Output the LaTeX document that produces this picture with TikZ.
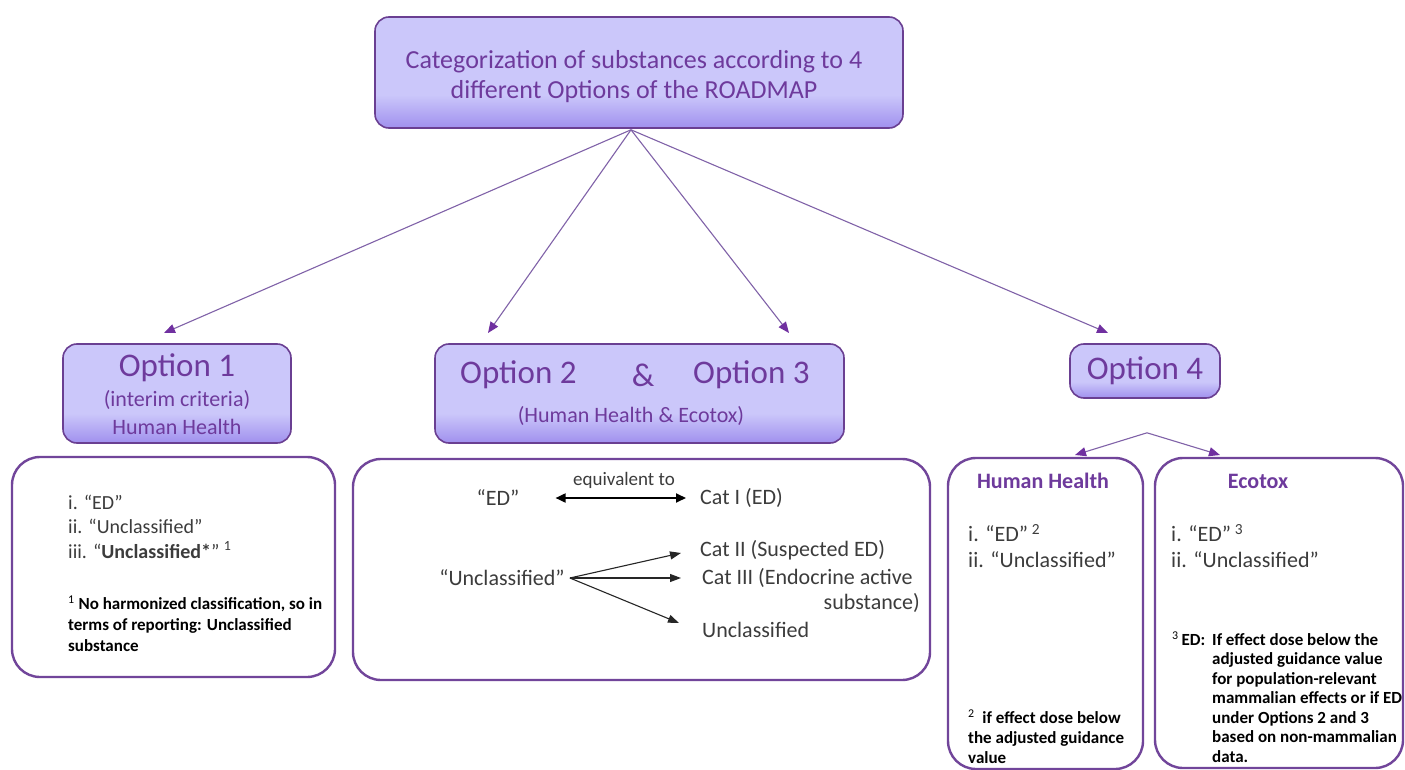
\documentclass[tikz,border=0pt]{standalone}
\usepackage{fontspec}
\setmainfont{Carlito}
\usetikzlibrary{arrows.meta,calc}

\definecolor{boxTop}{HTML}{CBC7FA}
\definecolor{boxBot}{HTML}{A090EE}
\definecolor{boxLine}{HTML}{6A3F92}
\definecolor{listLine}{HTML}{71459A}
\definecolor{purpText}{HTML}{6E3A9C}
\definecolor{linkLine}{HTML}{8062A8}
\definecolor{tipCol}{HTML}{7030A0}
\definecolor{bodyText}{HTML}{3C3C3C}

% lavender fill that darkens only towards the lower edge
\pgfdeclareverticalshading{optshade}{100bp}{color(0bp)=(boxBot); color(25bp)=(boxBot); color(40bp)=(boxTop); color(100bp)=(boxTop)}

\newcommand\setfs[2]{\fontsize{#1}{#2}\selectfont}

\tikzset{
  optbox/.style={draw=boxLine, line width=1.6pt, rounded corners=14pt, shade, shading=optshade, inner sep=0pt},
  listbox/.style={draw=listLine, line width=2.4pt, rounded corners=28pt, fill=white, inner sep=0pt},
  ptxt/.style={text=purpText, inner sep=0pt, align=center},
  btxt/.style={text=bodyText, inner sep=0pt, align=left},
  fn/.style={text=black, inner sep=0pt, align=left},
  link/.style={draw=linkLine, line width=1.1pt, -{Triangle[length=11pt,width=9pt,color=tipCol]}},
  blk/.style={draw=black!85, line width=1.1pt, -{Triangle[length=11pt,width=8pt]}},
  dbl/.style={draw=black, line width=1.8pt, {Triangle[length=10pt,width=9pt]}-{Triangle[length=10pt,width=9pt]}}
}

\begin{document}
\begin{tikzpicture}[x=1pt, y=-1pt]
\fill[white] (0,0) rectangle (1405,770);
\useasboundingbox (0,0) rectangle (1405,770);

% ---------- top box ----------
\node[optbox, minimum width=528pt, minimum height=111pt] (title) at (639,72.5) {};
\node[ptxt, font=\setfs{26}{30}] (titletext) at (634,77) {Categorization of substances according to 4\\different Options of the ROADMAP};

% ---------- option boxes ----------
\node[optbox, minimum width=228pt, minimum height=99pt] (opt1) at (177,393.5) {};
\node[ptxt, font=\setfs{33}{36}] (opt1a) at (177,368) {Option 1};
\node[ptxt, font=\setfs{22}{26}] (opt1b) at (177,400) {(interim criteria)};
\node[ptxt, font=\setfs{22}{26}] (opt1c) at (177,427) {Human Health};

\node[optbox, minimum width=409pt, minimum height=99pt] (opt23) at (639.5,393.5) {};
\node[ptxt, font=\setfs{33}{36}, anchor=west] (opt2a) at (460,375) {Option 2};
\node[ptxt, font=\setfs{33}{36}] (amp) at (643,375) {\&};
\node[ptxt, font=\setfs{33}{36}, anchor=west] (opt3a) at (693,375) {Option 3};
\node[ptxt, font=\setfs{22}{26}] (opt23b) at (631,416) {(Human Health \& Ecotox)};

\node[optbox, minimum width=150pt, minimum height=54pt, text=purpText, font=\setfs{33}{36}] (opt4) at (1145,371) {Option 4};

% ---------- connectors from the top box ----------
\coordinate (src) at ($(title.south)+(-8,1)$);
\coordinate (tip1) at (164,333);
\coordinate (tip2) at (488,333);
\coordinate (tip3) at (789,333);
\coordinate (tip4) at (1108,333);
\draw[link] (src) -- (tip1);
\draw[link] (src) -- (tip2);
\draw[link] (src) -- (tip3);
\draw[link] (src) -- (tip4);

% ---------- Option 4 split ----------
\coordinate (split) at ($(opt4.south)+(2,34)$);
\coordinate (tiphh) at (1075,455);
\coordinate (tipeco) at (1220,455);
\draw[link] (split) -- (tiphh);
\draw[link] (split) -- (tipeco);

% ---------- lower boxes ----------
\node[listbox, minimum width=323pt, minimum height=220pt] (list1) at (173.5,567) {};
\node[listbox, minimum width=577pt, minimum height=221pt] (list23) at (641.5,569.5) {};
\node[listbox, minimum width=195pt, minimum height=311pt] (listhh) at (1045.5,613.5) {};
\node[listbox, minimum width=248pt, minimum height=310pt] (listeco) at (1279,613) {};

% Option 1 contents
\node[btxt, anchor=west, font=\setfs{20}{24.5}] (l1items) at (68,526.5)
  {i. “ED”\\ii. “Unclassified”\\iii. “\textbf{Unclassified*}” \textsuperscript{1}};
\node[fn, anchor=west, font=\bfseries\setfs{17}{21}] (l1note) at (68,624)
  {\textsuperscript{\mdseries 1} No harmonized classification, so in\\terms of reporting: Unclassified\\substance};

% Option 2 & 3 contents
\node[btxt, font=\setfs{22}{26}] (ed) at (498,498) {“ED”};
\node[btxt, font=\setfs{22}{26}, anchor=west] (cat1) at (700,498) {Cat I (ED)};
\node[btxt, font=\setfs{19}{22}] (equiv) at (624,480) {equivalent to};
\draw[dbl, shorten <=36pt, shorten >=14pt] (ed.east) -- (cat1.west);

\node[btxt, font=\setfs{22}{26}] (uq) at (502,578) {“Unclassified”};
\node[btxt, font=\setfs{22}{26}, anchor=west] (cat2) at (700,550) {Cat II (Suspected ED)};
\node[btxt, font=\setfs{22}{26}, anchor=west] (cat3) at (702,578) {Cat III (Endocrine active};
\node[btxt, font=\setfs{22}{26}, anchor=east] (subst) at (920,603) {substance)};
\node[btxt, font=\setfs{22}{26}, anchor=west] (uncl) at (702,630) {Unclassified};
\coordinate (t2) at (681,553);
\coordinate (t3) at (681,578);
\coordinate (t4) at (679,623);
\draw[blk] ([xshift=5pt]uq.east) -- (t2);
\draw[blk] ([xshift=5pt]uq.east) -- (t3);
\draw[blk] ([xshift=5pt]uq.east) -- (t4);

% Human Health column
\node[ptxt, font=\bfseries\setfs{22}{26}] (hhtitle) at (1043,481) {Human Health};
\node[btxt, anchor=west, font=\setfs{22}{26}] (hhitems) at (968,546)
  {i. “ED”\,\textsuperscript{2}\\ii. “Unclassified”};
\node[fn, anchor=west, font=\bfseries\setfs{17}{20}] (hhnote) at (968,737)
  {\textsuperscript{\mdseries 2}\ \ if effect dose below\\the adjusted guidance\\value};

% Ecotox column
\node[ptxt, font=\bfseries\setfs{22}{26}] (ecotitle) at (1258,481) {Ecotox};
\node[btxt, anchor=west, font=\setfs{22}{26}] (ecoitems) at (1171,546)
  {i. “ED”\,\textsuperscript{3}\\ii. “Unclassified”};
\node[fn, anchor=west, font=\bfseries\setfs{17}{19.5}] (econote) at (1172,697)
  {\makebox[40pt][l]{\textsuperscript{\mdseries 3}\,ED:}If effect dose below the\\
   \hspace*{40pt}adjusted guidance value\\
   \hspace*{40pt}for population-relevant\\
   \hspace*{40pt}mammalian effects or if ED\\
   \hspace*{40pt}under Options 2 and 3\\
   \hspace*{40pt}based on non-mammalian\\
   \hspace*{40pt}data.};
\end{tikzpicture}
\end{document}
